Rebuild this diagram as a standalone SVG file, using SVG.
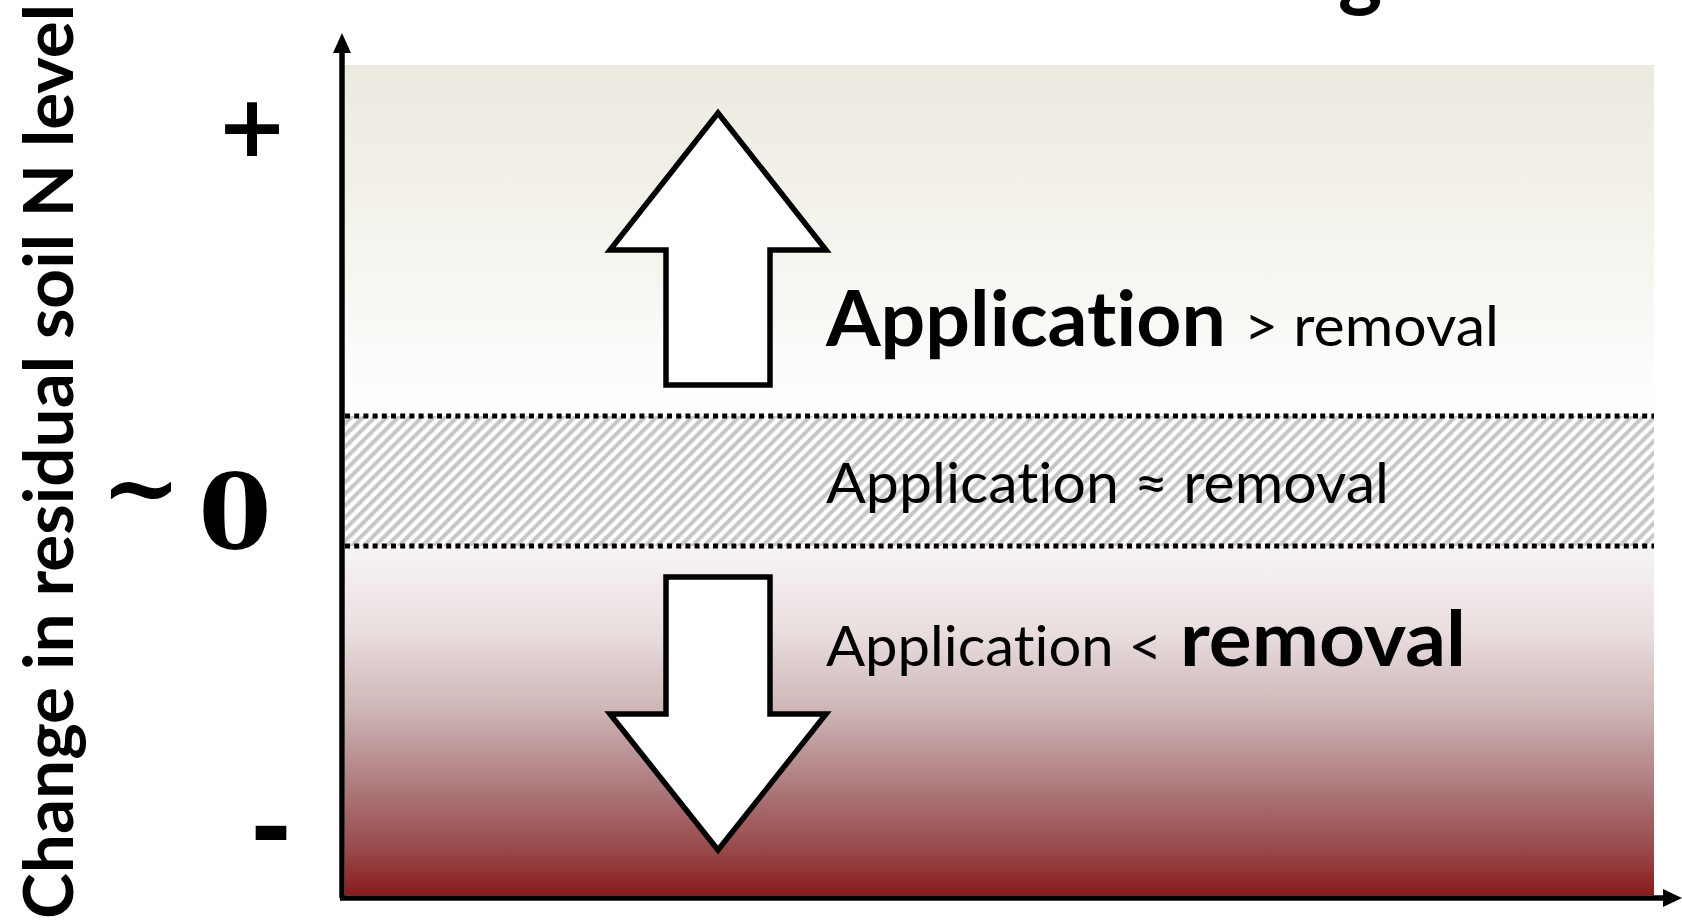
<svg xmlns="http://www.w3.org/2000/svg" width="1682" height="924" viewBox="0 0 1682 924">
  <style>
    text { font-variant-ligatures: none; }
    .bold { font-family: Lato, "Open Sans", "Liberation Sans", sans-serif; font-weight: 700; fill: #000; }
    .reg { font-family: Lato, "Open Sans", "Liberation Sans", sans-serif; font-weight: 400; fill: #000; }
    .sym { font-family: "DejaVu Sans", sans-serif; font-weight: 700; fill: #000; }
    .symserif { font-family: "DejaVu Serif", serif; font-weight: 700; fill: #000; }
    .axis { stroke: #000; stroke-width: 5.5; fill: none; }
    .dots { stroke: #000; stroke-width: 5; stroke-dasharray: 5 4.2; fill: none; }
    .bigarrow { fill: #fff; stroke: #000; stroke-width: 5.5; stroke-linejoin: miter; }
  </style>
  <defs>
    <linearGradient id="bg" x1="0" y1="65" x2="0" y2="895" gradientUnits="userSpaceOnUse">
      <stop offset="0" stop-color="#ECEADF"/>
      <stop offset="0.25" stop-color="#F6F5F0"/>
      <stop offset="0.42" stop-color="#FFFFFF"/>
      <stop offset="0.58" stop-color="#F8F4F4"/>
      <stop offset="0.68" stop-color="#EADFDF"/>
      <stop offset="0.78" stop-color="#CDB4B5"/>
      <stop offset="0.88" stop-color="#AA7375"/>
      <stop offset="0.95" stop-color="#974647"/>
      <stop offset="1" stop-color="#8A1A1C"/>
    </linearGradient>
    <pattern id="hatch" width="8.3" height="20" patternUnits="userSpaceOnUse" patternTransform="rotate(45)">
      <rect width="8.3" height="20" fill="#FFFFFF"/>
      <rect x="2" width="4" height="20" fill="#C6C6C6"/>
    </pattern>
  </defs>

  <!-- plotting field -->
  <g id="field">
    <rect x="345" y="65" width="1309" height="830" fill="url(#bg)"/>
    <rect x="345" y="416" width="1309" height="130" fill="url(#hatch)"/>
    <line class="dots" x1="345" y1="416" x2="1654" y2="416"/>
    <line class="dots" x1="345" y1="546" x2="1654" y2="546"/>
  </g>

  <!-- axes -->
  <g id="axes">
    <line class="axis" x1="342" y1="898" x2="342" y2="50"/>
    <polygon points="342,33 333,53 351,53" fill="#000"/>
    <line class="axis" x1="340" y1="898" x2="1666" y2="898"/>
    <polygon points="1682,898 1663,889 1663,907" fill="#000"/>
  </g>

  <!-- y-axis title and scale marks -->
  <g id="y-title">
    <text class="bold" font-size="68" transform="translate(73,919) rotate(-90)" x="0" y="0" textLength="915" lengthAdjust="spacingAndGlyphs">Change in residual soil N level</text>
  </g>
  <g id="mark-plus">
    <text class="sym" font-size="86" x="252" y="156" text-anchor="middle">+</text>
  </g>
  <g id="mark-zero">
    <text class="symserif" font-size="96" x="141" y="520" text-anchor="middle">~</text>
    <text class="symserif" font-size="105" x="235" y="549" text-anchor="middle">0</text>
  </g>
  <g id="mark-minus">
    <text class="sym" font-size="100" x="271" y="862" text-anchor="middle">-</text>
  </g>

  <!-- title fragment at the top edge -->
  <g id="title">
    <text class="bold" font-size="84" x="1338" y="0">g</text>
  </g>

  <!-- surplus arrow -->
  <g id="arrow-up">
    <polygon class="bigarrow" points="718,113 826,250 770,250 770,385 666,385 666,250 610,250"/>
  </g>

  <!-- deficit arrow -->
  <g id="arrow-down">
    <polygon class="bigarrow" points="666,577 770,577 770,714 826,714 718,850 610,714 666,714"/>
  </g>

  <!-- zone labels -->
  <g id="label-surplus">
    <text class="bold" font-size="76" x="826" y="346" textLength="400" lengthAdjust="spacingAndGlyphs">Application</text>
    <text class="reg" font-size="57" x="1244" y="346" textLength="255" lengthAdjust="spacingAndGlyphs">&gt; removal</text>
  </g>
  <g id="label-balance">
    <text class="reg" font-size="57" x="826" y="503" textLength="563" lengthAdjust="spacingAndGlyphs">Application ≈ removal</text>
  </g>
  <g id="label-deficit">
    <text class="reg" font-size="57" x="826" y="666" textLength="336" lengthAdjust="spacingAndGlyphs">Application &lt;</text>
    <text class="bold" font-size="76" x="1180" y="666" textLength="286" lengthAdjust="spacingAndGlyphs">removal</text>
  </g>
</svg>
